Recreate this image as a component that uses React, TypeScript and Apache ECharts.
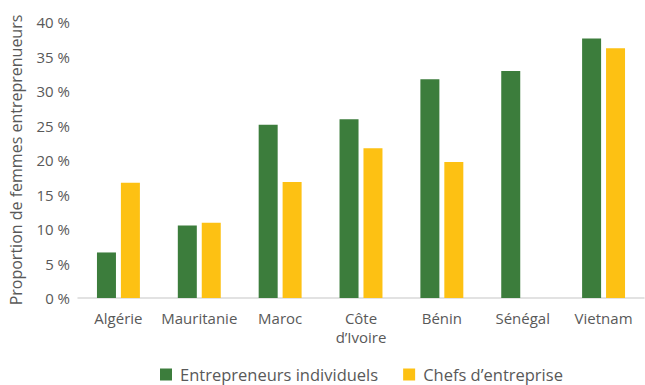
import React, { useEffect, useRef } from "react";
import * as echarts from "echarts";

const categories = ["Algérie", "Mauritanie", "Maroc", "Côte\nd’Ivoire", "Bénin", "Sénégal", "Vietnam"];
const entrepreneursIndividuels = [6.6, 10.5, 25.1, 25.9, 31.7, 32.9, 37.6];
const chefsEntreprise = [16.7, 10.9, 16.8, 21.7, 19.7, null, 36.2];
const yTicks = { min: 0, max: 40, interval: 5 };

const FONT = "'Open Sans', sans-serif";
const TEXT = "#595959";

export default function App() {
  const ref = useRef<HTMLDivElement>(null);
  useEffect(() => {
    if (!ref.current) return;
    const chart = echarts.init(ref.current, null, { renderer: "svg" });
    chart.setOption({
      animation: false,
      textStyle: { fontFamily: FONT },
      grid: { left: 78, right: 1, top: 22, bottom: 87, containLabel: false },
      legend: {
        top: 366,
        left: 160,
        padding: 0,
        itemWidth: 12,
        itemHeight: 12,
        itemGap: 25,
        icon: "rect",
        textStyle: { fontFamily: FONT, fontSize: 16.5, color: TEXT, padding: [0, 0, 0, 3] },
        data: ["Entrepreneurs individuels", "Chefs d’entreprise"],
      },
      xAxis: {
        type: "category",
        data: categories,
        axisLine: { lineStyle: { color: "#d9d9d9", width: 1.5 } },
        axisTick: { show: false },
        axisLabel: { interval: 0, fontFamily: FONT, fontSize: 15, color: TEXT, margin: 10, lineHeight: 19 },
      },
      yAxis: {
        type: "value",
        min: yTicks.min,
        max: yTicks.max,
        interval: yTicks.interval,
        name: "Proportion de femmes entreprenueurs",
        nameLocation: "middle",
        nameGap: 54,
        nameTextStyle: { fontFamily: FONT, fontSize: 16, color: TEXT },
        axisLine: { show: false },
        axisTick: { show: false },
        splitLine: { show: false },
        axisLabel: { formatter: "{value} %", fontFamily: FONT, fontSize: 15, color: TEXT, margin: 8 },
      },
      series: [
        {
          name: "Entrepreneurs individuels",
          type: "bar",
          data: entrepreneursIndividuels,
          barWidth: 19,
          barGap: "26%",
          itemStyle: { color: "#3c7d3c" },
        },
        {
          name: "Chefs d’entreprise",
          type: "bar",
          data: chefsEntreprise,
          barWidth: 19,
          barGap: "26%",
          itemStyle: { color: "#fdc113" },
        },
      ],
    });
    return () => chart.dispose();
  }, []);
  return <div ref={ref} style={{ width: 645, height: 385, position: "absolute", left: 0, top: 0 }} />;
}
